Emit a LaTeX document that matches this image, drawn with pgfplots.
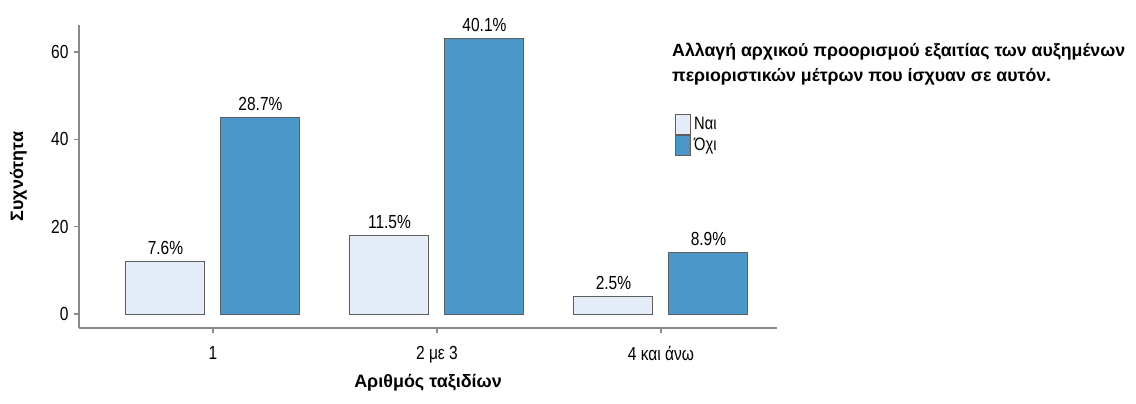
\documentclass[border=0pt]{standalone}
\usepackage{fontspec}
\setmainfont{Liberation Sans}[FakeStretch=0.82]
\newfontfamily\lblfont{Liberation Sans}
\usepackage{pgfplots}
\pgfplotsset{compat=1.18}
\definecolor{nai}{HTML}{E3ECF7}
\definecolor{oxi}{HTML}{4A96C8}
\definecolor{edge}{HTML}{5E5E5E}
\definecolor{axc}{HTML}{8A8A8A}
\begin{document}
\begin{tikzpicture}[x=1bp,y=1bp]
\useasboundingbox (0,0) rectangle (1136,403);
\begin{axis}[
  at={(79bp,75bp)}, anchor=south west,
  scale only axis, width=698bp, height=303bp,
  xmin=-0.598, xmax=2.518, ymin=-3.2, ymax=66.2,
  axis x line*=bottom, axis y line*=left,
  axis line style={axc, line width=1.3bp, -},
  ybar=16bp, bar width=79bp,
  xtick={0,1,2}, xticklabels={1, 2 με 3, 4 και άνω},
  ytick={0,20,40,60},
  tick align=outside, major tick length=5bp,
  tick style={axc, line width=1.2bp},
  /pgf/number format/assume math mode=true,
  tick label style={font=\fontsize{19}{22}\selectfont},
  xticklabel style={yshift=-10bp},
  yticklabel style={xshift=-2bp},
  xlabel={Αριθμός ταξιδίων},
  ylabel={Συχνότητα},
  label style={font=\lblfont\bfseries\fontsize{18}{22}\selectfont},
  xlabel style={at={(axis description cs:0.5,-0.18)}, anchor=center},
  ylabel style={at={(axis description cs:-0.087,0.5)}, anchor=center},
  nodes near coords,
  point meta=explicit symbolic,
  every node near coord/.append style={font=\fontsize{19}{22}\selectfont, text=black, yshift=3bp},
  legend style={at={(axis description cs:0.8532,0.708)}, anchor=north west, draw=none, fill=none,
    font=\fontsize{18}{20}\selectfont, row sep=0pt, inner sep=0pt,
    nodes={inner xsep=3.5bp, inner ysep=0.5bp}},
  legend cell align=left,
  legend image code/.code={\draw[#1, line width=1bp] (0bp,-10bp) rectangle (15bp,10bp);},
  clip=false,
]
\addplot[fill=nai, draw=edge, line width=1bp] table[meta=lab] {
x y lab
0 12 7.6\%
1 18 11.5\%
2 4 2.5\%
};
\addplot[fill=oxi, draw=edge, line width=1bp] table[meta=lab] {
x y lab
0 45 28.7\%
1 63 40.1\%
2 14 8.9\%
};
\legend{Ναι, Όχι}
\node[anchor=north west, align=left, font=\lblfont\bfseries\fontsize{17.8}{24.5}\selectfont, inner sep=0pt]
  at (axis description cs:0.8496,0.94)
  {Αλλαγή αρχικού προορισμού εξαιτίας των αυξημένων\\περιοριστικών μέτρων που ίσχυαν σε αυτόν.};
\end{axis}
\end{tikzpicture}
\end{document}
